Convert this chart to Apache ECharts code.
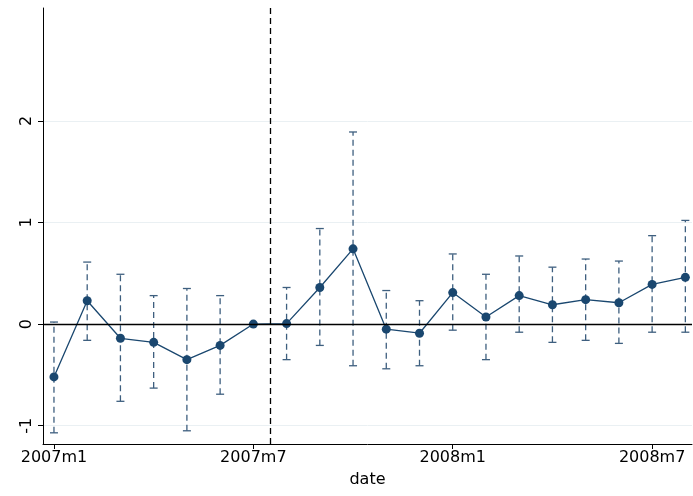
<!DOCTYPE html>
<html>
<head>
<meta charset="utf-8">
<script src="https://cdn.jsdelivr.net/npm/echarts@6/dist/echarts.min.js"></script>
<style>html,body{margin:0;padding:0;background:#fff}#chart{width:693px;height:496px}</style>
</head>
<body>
<div id="chart"></div>
<script>
// 月份标签（索引 0 = 2007m1）
var months = ['2007m1','2007m2','2007m3','2007m4','2007m5','2007m6','2007m7','2007m8','2007m9','2007m10',
  '2007m11','2007m12','2008m1','2008m2','2008m3','2008m4','2008m5','2008m6','2008m7','2008m8']
var coef  = [-0.52, 0.23, -0.14, -0.18, -0.35, -0.21, 0, 0.005, 0.36, 0.74, -0.05, -0.09, 0.31, 0.07, 0.28, 0.19, 0.24, 0.21, 0.39, 0.46]
var upper = [0.02, 0.61, 0.49, 0.28, 0.35, 0.28, null, 0.36, 0.94, 1.89, 0.33, 0.23, 0.69, 0.49, 0.67, 0.56, 0.64, 0.62, 0.87, 1.02]
var lower = [-1.07, -0.16, -0.76, -0.63, -1.05, -0.69, null, -0.35, -0.21, -0.41, -0.44, -0.41, -0.06, -0.35, -0.08, -0.18, -0.16, -0.19, -0.08, -0.08]
var xTicks = [0, 6, 12, 18]
var yTicks = [-1, 0, 1, 2]

var myChart = echarts.init(document.getElementById('chart'))
var ciData = []
for (let i = 0; i < coef.length; i++) {
  if (upper[i] !== null) ciData.push([i, lower[i], upper[i]])
}
var option = {
  animation: false,
  grid: { left: 43, right: 1, top: 8, bottom: 52 },
  xAxis: {
    type: 'value', min: -0.33, max: 19.2,
    name: 'date', nameLocation: 'middle', nameGap: 28,
    nameTextStyle: { fontSize: 16, color: '#000', fontFamily: 'DejaVu Sans' },
    axisLine: { show: true, onZero: false, lineStyle: { color: '#000' } },
    axisTick: { show: true, customValues: xTicks, length: 5, lineStyle: { color: '#000' } },
    axisLabel: { customValues: xTicks, formatter: function (v) { return months[v] },
      fontSize: 16, color: '#000', fontFamily: 'DejaVu Sans', margin: 6 },
    splitLine: { show: false }
  },
  yAxis: {
    type: 'value', min: -1.18, max: 3.11,
    axisLine: { show: true, onZero: false, lineStyle: { color: '#000' } },
    axisTick: { show: true, customValues: yTicks, length: 5, lineStyle: { color: '#000' } },
    axisLabel: { customValues: yTicks, rotate: 90, fontSize: 16, color: '#000', fontFamily: 'DejaVu Sans', margin: 8 },
    splitLine: { show: true, customValues: yTicks, lineStyle: { color: '#eaf0f3' } }
  },
  series: [
    {
      type: 'custom',
      data: ciData,
      renderItem: function (params, api) {
        var x = api.value(0)
        var lo = api.coord([x, api.value(1)])
        var hi = api.coord([x, api.value(2)])
        var style = { stroke: '#3e5f7f', lineWidth: 1.3 }
        return {
          type: 'group',
          children: [
            { type: 'line', shape: { x1: lo[0], y1: lo[1], x2: hi[0], y2: hi[1] },
              style: Object.assign({ lineDash: [6, 4] }, style) },
            { type: 'line', shape: { x1: lo[0] - 4, y1: lo[1], x2: lo[0] + 4, y2: lo[1] }, style: style },
            { type: 'line', shape: { x1: hi[0] - 4, y1: hi[1], x2: hi[0] + 4, y2: hi[1] }, style: style }
          ]
        }
      },
      z: 2
    },
    {
      type: 'line',
      data: coef.map(function (v, i) { return [i, v] }),
      symbol: 'circle', symbolSize: 9,
      lineStyle: { color: '#1a476f', width: 1.3 },
      itemStyle: { color: '#1a476f' },
      z: 3,
      markLine: {
        silent: true, symbol: 'none', label: { show: false },
        data: [
          { yAxis: 0, lineStyle: { color: '#000', type: 'solid', width: 1.3 } },
          { xAxis: 6.5, lineStyle: { color: '#000', type: [6, 4], width: 1.3 } }
        ]
      }
    }
  ]
}
myChart.setOption(option)
</script>
</body>
</html>
